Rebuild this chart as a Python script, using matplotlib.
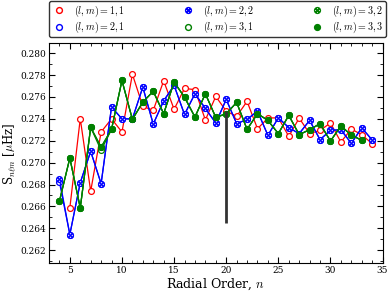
import numpy as np
import matplotlib
matplotlib.use("Agg")
import matplotlib.pyplot as plt
from matplotlib.path import Path
from matplotlib.lines import Line2D

plt.rcParams['font.family'] = 'DejaVu Serif'
plt.rcParams['mathtext.fontset'] = 'cm'

# radial orders
n_red = np.arange(5, 35)
n_blue = np.arange(4, 35)
n_green = np.arange(4, 34)

# (l,m)=1,1
s11 = [0.26586, 0.27402, 0.26738, 0.2728, 0.27400, 0.2728, 0.27808, 0.27515, 0.27477, 0.27748,
       0.27487, 0.27678, 0.27667, 0.27390, 0.27605, 0.27471, 0.27423, 0.2756, 0.2731, 0.27407,
       0.2741, 0.2724, 0.27407, 0.27265, 0.27295, 0.27362, 0.27188, 0.27307, 0.27255, 0.27173]
# (l,m)=2,2
s22 = [0.26854, 0.26343, 0.26817, 0.27103, 0.26808, 0.27508, 0.27400, 0.27400, 0.2769, 0.27352,
       0.27565, 0.27706, 0.27440, 0.2763, 0.27495, 0.27362, 0.27578, 0.27356, 0.27395, 0.27471,
       0.27249, 0.2741, 0.2732, 0.27265, 0.27386, 0.2721, 0.27295, 0.27301, 0.27176, 0.27318, 0.27207]
# (l,m)=2,1 (almost on top of 2,2)
s21 = [0.26823] + s22[1:]
# (l,m)=3,3
s33 = [0.26647, 0.27042, 0.26586, 0.27322, 0.27142, 0.27304, 0.27751, 0.27395, 0.27553, 0.27652,
       0.27447, 0.27736, 0.27599, 0.27416, 0.2763, 0.27413, 0.27447, 0.2755, 0.27304, 0.27447,
       0.27386, 0.27265, 0.27432, 0.27256, 0.27301, 0.27356, 0.27197, 0.27335, 0.27252, 0.27204]
# (l,m)=3,1 and 3,2
s31 = s33[:4] + [0.27112] + s33[5:]
s32 = list(s33)

n_mark = 20
s_mark_low = 0.2645

# circle with an x inside
t = 0.7071
xcirc = Path.make_compound_path(
    Path.unit_circle(),
    Path([(-t, -t), (t, t), (-t, t), (t, -t)],
         [Path.MOVETO, Path.LINETO, Path.MOVETO, Path.LINETO]))

red = '#ff0000'
blue = '#0000ff'
green = '#008000'

fig = plt.figure(figsize=(3.9, 2.93), dpi=100)
ax = fig.add_axes([0.1256, 0.1014, 0.8554, 0.7506])

ms = 4.2
lw = 0.9
ax.plot(n_red, s11, '-', color=red, lw=lw, marker='o', ms=ms, mfc='white', mec=red, mew=0.9)
ax.plot(n_blue, s21, '-', color=blue, lw=lw, marker='o', ms=ms, mfc='white', mec=blue, mew=0.9)
ax.plot(n_blue, s22, '-', color=blue, lw=lw, marker=xcirc, ms=ms, mfc='white', mec=blue, mew=0.9)
ax.plot(n_green, s31, '-', color=green, lw=lw, marker='o', ms=ms, mfc='white', mec=green, mew=0.9)
ax.plot(n_green, s32, '-', color=green, lw=lw, marker=xcirc, ms=ms, mfc='white', mec=green, mew=0.9)
ax.plot(n_green, s33, '-', color=green, lw=lw, marker='o', ms=ms, mfc=green, mec=green, mew=0.9)

ax.vlines(n_mark, s_mark_low, s11[list(n_red).index(n_mark)], color='#333333', lw=2, zorder=5)

ax.set_xlim(3, 35)
ax.set_ylim(0.2608, 0.2809)
ax.set_xticks([5, 10, 15, 20, 25, 30, 35])
ax.set_xticks(np.arange(3, 36), minor=True)
ax.set_yticks([0.262, 0.264, 0.266, 0.268, 0.270, 0.272, 0.274, 0.276, 0.278, 0.280])
ax.set_yticks(np.arange(0.261, 0.2805, 0.001), minor=True)
ax.tick_params(which='both', direction='in', top=True, right=True, labelsize=6.5, pad=2)
ax.tick_params(which='major', length=4)
ax.tick_params(which='minor', length=2)
ax.set_xlabel(r'Radial Order, $n$', fontsize=9, labelpad=1)
ax.set_ylabel(r'S$_{n\ell m}$ [$\mu$Hz]', fontsize=8.5)
ax.yaxis.set_label_coords(-0.093, 0.5)

handles = [
    Line2D([], [], ls='none', marker='o', ms=ms, mfc='white', mec=red),
    Line2D([], [], ls='none', marker='o', ms=ms, mfc='white', mec=blue),
    Line2D([], [], ls='none', marker=xcirc, ms=ms, mfc='white', mec=blue),
    Line2D([], [], ls='none', marker='o', ms=ms, mfc='white', mec=green),
    Line2D([], [], ls='none', marker=xcirc, ms=ms, mfc='white', mec=green),
    Line2D([], [], ls='none', marker='o', ms=ms, mfc=green, mec=green),
]
labels = [r'$(l,m)=1,1$', r'$(l,m)=2,1$', r'$(l,m)=2,2$',
          r'$(l,m)=3,1$', r'$(l,m)=3,2$', r'$(l,m)=3,3$']
leg = ax.legend(handles, labels, ncol=3, loc='lower left', mode='expand',
                bbox_to_anchor=(0.0, 1.027, 1.01, 0.146), fontsize=7.2,
                handlelength=1.5, fancybox=True, borderaxespad=0, framealpha=1,
                labelspacing=0.12, borderpad=0.22)
leg.get_frame().set_edgecolor('#333333')
leg.get_frame().set_linewidth(1.0)

fig.savefig('out.png', dpi=100)
